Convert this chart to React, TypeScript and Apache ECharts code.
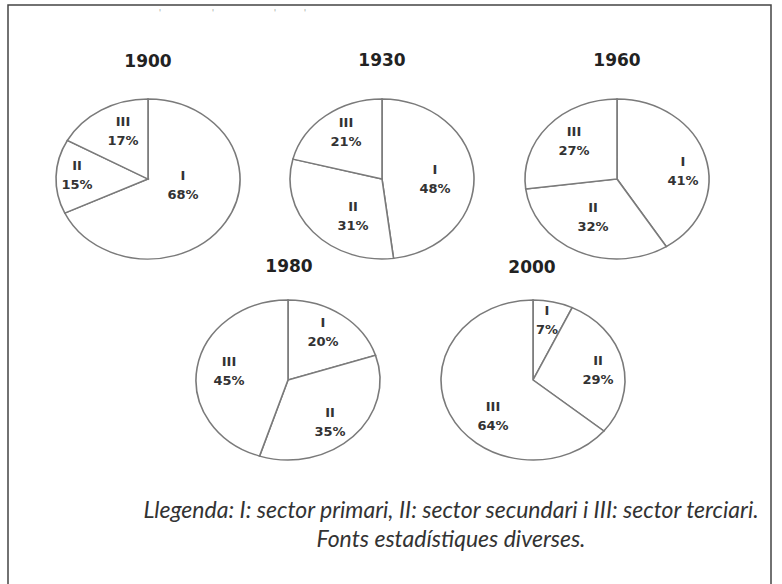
import React, { useEffect, useRef } from "react";
import * as echarts from "echarts";

// ---- data ----
const years = ["1900", "1930", "1960", "1980", "2000"];
const sectorLabels = ["I", "II", "III"];
const values1900 = [68, 15, 17];
const values1930 = [48, 31, 21];
const values1960 = [41, 32, 27];
const values1980 = [20, 35, 45];
const values2000 = [7, 29, 64];
const allValues = [values1900, values1930, values1960, values1980, values2000];
const legendLine1 = "Llegenda: I: sector primari, II: sector secundari i III: sector terciari.";
const legendLine2 = "Fonts estadístiques diverses.";

// ---- layout (positions, not data) ----
const pieCenters = [
  [148, 179],
  [382, 179],
  [617, 179],
  [288, 380],
  [533, 380],
];
const titlePos = [
  [148, 61],
  [382, 60],
  [617, 60],
  [289, 266],
  [532, 267],
];
// label offsets from pie centre (unscaled pixels)
const labelOffsets = [
  [[35, 6], [-71, -4], [-25, -48]],
  [[53, 0], [-29, 37], [-36, -47]],
  [[66, -8], [-24, 38], [-43, -38]],
  [[35, -48], [42, 42], [-59, -9]],
  [[14, -60], [65, -10], [-40, 36]],
];
const R = 80;
const SX = 1.15;

export default function App() {
  const ref = useRef<HTMLDivElement>(null);
  useEffect(() => {
    if (!ref.current) return;
    const chart = echarts.init(ref.current, undefined, { renderer: "svg" });

    const series = allValues.map((vals, p) => {
      const total = vals.reduce((a, b) => a + b, 0);
      const [cx, cy] = pieCenters[p];
      return {
        type: "custom",
        coordinateSystem: "none",
        data: vals.map((v, i) => ({ value: v, name: sectorLabels[i] })),
        renderItem: (params: any, api: any) => {
          const i = params.dataIndex;
          const v = api.value(0);
          let cum = 0;
          for (let k = 0; k < i; k++) cum += vals[k];
          const start = -Math.PI / 2 + (2 * Math.PI * cum) / total;
          const end = start + (2 * Math.PI * v) / total;
          const [ox, oy] = labelOffsets[p][i];
          return {
            type: "group",
            children: [
              {
                type: "sector",
                x: cx,
                y: cy,
                scaleX: SX,
                shape: { cx: 0, cy: 0, r: R, r0: 0, startAngle: start, endAngle: end, clockwise: true },
                style: { fill: "#ffffff", stroke: "#7a7a7a", lineWidth: 1.4, strokeNoScale: true },
              },
              {
                type: "text",
                x: cx + ox,
                y: cy + oy,
                style: {
                  text: sectorLabels[i] + "\n" + v + "%",
                  fill: "#333333",
                  font: "bold 13px 'DejaVu Sans'",
                  lineHeight: 19,
                  align: "center",
                  verticalAlign: "middle",
                },
              },
            ],
          };
        },
      };
    });

    const graphics: any[] = [
      {
        type: "rect",
        shape: { x: 8, y: 5, width: 763, height: 600 },
        style: { fill: "none", stroke: "#444", lineWidth: 1.5 },
      },
      ...years.map((y, i) => ({
        type: "text",
        x: titlePos[i][0],
        y: titlePos[i][1],
        style: {
          text: y,
          fill: "#222",
          font: "bold 17px 'DejaVu Sans'",
          align: "center",
          verticalAlign: "middle",
        },
      })),
      {
        type: "text",
        x: 451,
        y: 509,
        style: {
          text: legendLine1,
          fill: "#333",
          font: "italic 23px Lato",
          align: "center",
          verticalAlign: "middle",
        },
      },
      {
        type: "text",
        x: 451,
        y: 538,
        style: {
          text: legendLine2,
          fill: "#333",
          font: "italic 23px Lato",
          align: "center",
          verticalAlign: "middle",
        },
      },
      ...[160, 213, 275, 305].map((x) => ({
        type: "text",
        x,
        y: 13,
        style: { text: "'", fill: "#aaa", font: "9px 'DejaVu Sans'", align: "center", verticalAlign: "middle" },
      })),
    ];

    chart.setOption({
      animation: false,
      backgroundColor: "#ffffff",
      series,
      graphic: graphics,
    });
    return () => chart.dispose();
  }, []);
  return (
    <div
      ref={ref}
      style={{ position: "fixed", left: 0, top: 0, width: 782, height: 584 }}
    />
  );
}
